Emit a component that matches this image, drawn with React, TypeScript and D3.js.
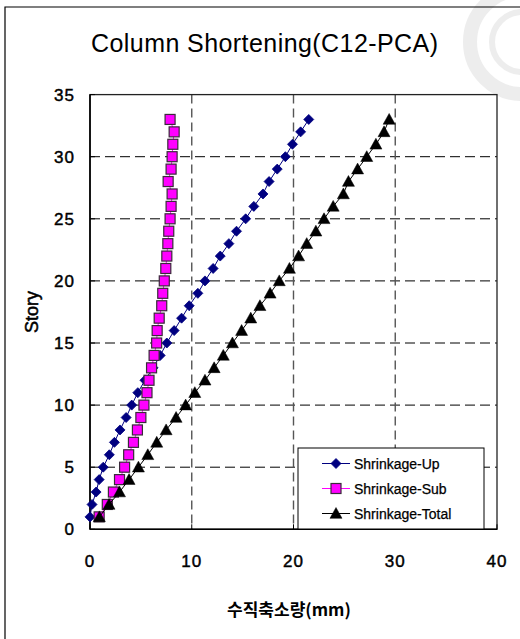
import React from "react";
import * as d3 from "d3";

const stories = d3.range(1, 34);
const shrinkUp = [0.0, 0.2, 0.6, 0.9, 1.3, 1.9, 2.4, 2.95, 3.55, 4.1, 4.7, 5.4, 6.2, 6.9, 7.55, 8.27, 9.0, 9.75, 10.6, 11.3, 12.1, 12.8, 13.65, 14.4, 15.3, 16.1, 17.0, 17.6, 18.4, 19.2, 19.9, 20.7, 21.5];
const shrinkSub = [0.9, 1.7, 2.3, 2.9, 3.4, 3.8, 4.27, 4.66, 5.0, 5.3, 5.6, 5.8, 6.05, 6.3, 6.55, 6.6, 6.8, 7.05, 7.15, 7.3, 7.45, 7.55, 7.65, 7.74, 7.87, 7.97, 8.07, 7.68, 7.97, 8.07, 8.14, 8.27, 7.87];
const shrinkTotal = [0.92, 1.87, 2.9, 3.84, 4.76, 5.68, 6.56, 7.48, 8.46, 9.4, 10.3, 11.3, 12.2, 13.1, 14.0, 14.9, 15.8, 16.7, 17.7, 18.6, 19.6, 20.5, 21.3, 22.2, 23.0, 23.9, 24.9, 25.4, 26.3, 27.2, 28.1, 28.9, 29.4];
const xTicks = [0, 10, 20, 30, 40];
const yTicks = [0, 5, 10, 15, 20, 25, 30, 35];
const seriesNames = ["Shrinkage-Up", "Shrinkage-Sub", "Shrinkage-Total"];
const title = "Column Shortening(C12-PCA)";
const xTitle = "수직축소량(mm)";
const yTitle = "Story";

const W = 520, H = 639;
const x = d3.scaleLinear().domain([0, 40]).range([90, 497]);
const y = d3.scaleLinear().domain([0, 35]).range([529.3, 94.6]);

const FONT = "'Liberation Sans', Arial, sans-serif";

function marker(kind: string, cx: number, cy: number, key: any) {
  if (kind === "diamond") {
    const r = 5;
    return <path key={key} d={`M${cx},${cy - r}L${cx + r},${cy}L${cx},${cy + r}L${cx - r},${cy}Z`} fill="#000080" stroke="#000080" strokeWidth={0.8} />;
  }
  if (kind === "square") {
    const s = 5;
    return <rect key={key} x={cx - s} y={cy - s} width={2 * s} height={2 * s} fill="#FF00FF" stroke="#3a2a3a" strokeWidth={1.2} />;
  }
  const r = 6;
  return <path key={key} d={`M${cx},${cy - r}L${cx + r},${cy + r * 0.8}L${cx - r},${cy + r * 0.8}Z`} fill="#000" stroke="#000" strokeWidth={0.5} />;
}

export default function App() {
  const series = [
    { name: seriesNames[0], vals: shrinkUp, line: "#000080", kind: "diamond" },
    { name: seriesNames[1], vals: shrinkSub, line: "#FF00FF", kind: "square" },
    { name: seriesNames[2], vals: shrinkTotal, line: "#000", kind: "triangle" },
  ];
  const lineGen = (vals: number[]) =>
    d3.line<number>().x((v) => x(v)).y((_, i) => y(stories[i]))(vals) || "";

  const lx = 298, ly = 448, lw = 186, lh = 81;

  return (
    <svg width={W} height={H} style={{ position: "absolute", left: 0, top: 0, background: "#fff" }}>
      <rect x={0} y={0} width={W} height={H} fill="#fff" />
      {/* watermark */}
      <g opacity={0.1}>
        <circle cx={522} cy={42} r={52} fill="none" stroke="#555" strokeWidth={14} />
        <circle cx={522} cy={42} r={30} fill="none" stroke="#555" strokeWidth={6} />
      </g>
      {/* outer frame */}
      <path d={`M5,${H + 2}V7H${W + 2}`} fill="none" stroke="#000" strokeWidth={1.2} />
      {/* title */}
      <text x={264.5} y={52} textAnchor="middle" fontFamily={FONT} fontSize={25} textLength={347} lengthAdjust="spacing">{title}</text>

      {/* grid */}
      {yTicks.filter((t) => t > 0 && t < 35).map((t) => (
        <line key={"hy" + t} x1={x(0)} x2={x(40)} y1={y(t)} y2={y(t)} stroke="#000" strokeWidth={1} strokeDasharray="10,5" />
      ))}
      {xTicks.filter((t) => t > 0 && t < 40).map((t) => (
        <line key={"vx" + t} x1={x(t)} x2={x(t)} y1={y(35)} y2={y(0)} stroke="#555" strokeWidth={1.4} strokeDasharray="9,5" />
      ))}
      {/* plot border */}
      <rect x={x(0)} y={y(35)} width={x(40) - x(0)} height={y(0) - y(35)} fill="none" stroke="#222" strokeWidth={1.3} />
      <line x1={x(0)} x2={x(0)} y1={y(35)} y2={y(0)} stroke="#000" strokeWidth={1.6} />
      <line x1={x(0)} x2={x(40)} y1={y(0)} y2={y(0)} stroke="#000" strokeWidth={1.6} />
      {xTicks.map((t) => (
        <line key={"tx" + t} x1={x(t)} x2={x(t)} y1={y(0)} y2={y(0) - 5} stroke="#000" />
      ))}
      {yTicks.map((t) => (
        <line key={"ty" + t} x1={x(0)} x2={x(0) + 5} y1={y(t)} y2={y(t)} stroke="#000" />
      ))}

      {/* tick labels */}
      {xTicks.map((t) => (
        <text key={"lx" + t} x={x(t)} y={567} textAnchor="middle" fontFamily={FONT} fontSize={17} stroke="#000" strokeWidth={0.45} letterSpacing={1}>{t}</text>
      ))}
      {yTicks.map((t) => (
        <text key={"ly" + t} x={75} y={y(t) + 6} textAnchor="end" fontFamily={FONT} fontSize={17} stroke="#000" strokeWidth={0.45} letterSpacing={1}>{t}</text>
      ))}
      <text x={289} y={616} textAnchor="middle" fontFamily="'Noto Sans CJK KR', sans-serif" fontSize={17} fontWeight={700}>{xTitle}</text>
      <text transform="translate(38,312) rotate(-90)" textAnchor="middle" fontFamily={FONT} fontSize={18} stroke="#000" strokeWidth={0.5}>{yTitle}</text>

      {/* series */}
      {series.map((s) => (
        <g key={s.name}>
          <path d={lineGen(s.vals)} fill="none" stroke={s.line} strokeWidth={1} />
          {s.vals.map((v, i) => marker(s.kind, x(v), y(stories[i]), i))}
        </g>
      ))}

      {/* legend */}
      <rect x={lx} y={ly} width={lw} height={lh} fill="#fff" stroke="#000" strokeWidth={1} />
      {series.map((s, i) => {
        const cy = 463.5 + i * 25;
        return (
          <g key={"lg" + i}>
            <line x1={322} x2={350} y1={cy} y2={cy} stroke={s.line} strokeWidth={1} />
            {marker(s.kind, 336, cy, "m")}
            <text x={354} y={cy + 5} fontFamily={FONT} fontSize={14} stroke="#000" strokeWidth={0.25}>{s.name}</text>
          </g>
        );
      })}
    </svg>
  );
}
